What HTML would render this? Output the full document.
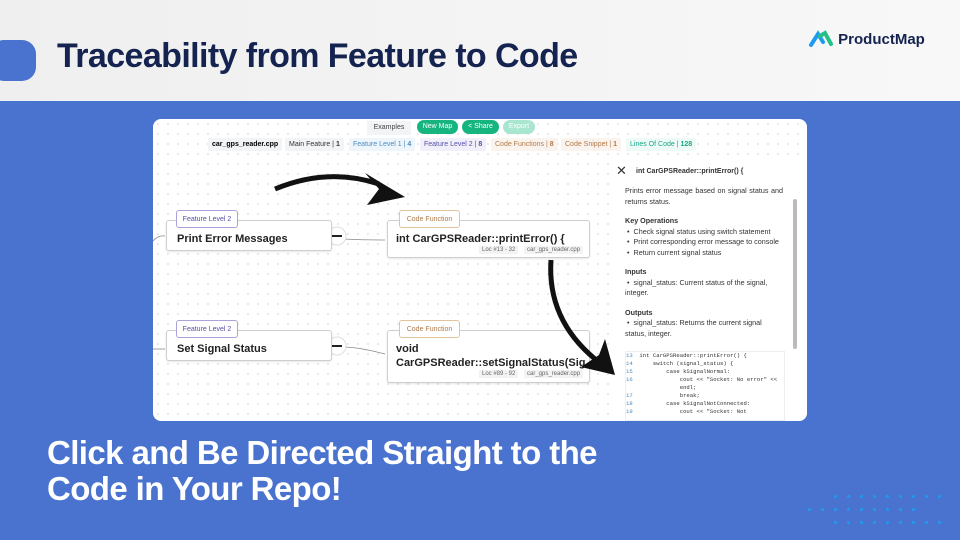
<!DOCTYPE html>
<html><head><meta charset="utf-8"><style>
*{margin:0;padding:0;box-sizing:border-box}
body{width:960px;height:540px;overflow:hidden;position:relative;background:#4a73cf;font-family:"Liberation Sans",sans-serif}
.hdr{position:absolute;left:0;top:0;width:960px;height:101px;background:linear-gradient(90deg,#efefef,#f8f8f8)}
.pill{position:absolute;left:-10px;top:40px;width:46px;height:41px;background:#4a73cf;border-radius:14px}
.title{position:absolute;left:57px;top:37px;font-size:34px;font-weight:bold;color:#14234f;letter-spacing:-0.6px}
.logo{position:absolute;left:808px;top:30px;font-size:15px;font-weight:bold;color:#14234f}
.panel{position:absolute;left:153px;top:119px;width:654px;height:302px;background:#fff;border-radius:8px;overflow:hidden;background-image:radial-gradient(#e2e2e2 0.8px,transparent 1px);background-size:10px 10px}
.a{position:absolute;font-size:7px;white-space:nowrap}
.chip{position:absolute;top:19px;height:13px;line-height:13px;padding:0 4px;background:#f3f4f6;font-size:7px;border-radius:2px}
.btn{position:absolute;top:1px;height:14px;line-height:14px;border-radius:7px;background:#16b57f;color:#fff;font-size:7px;text-align:center}
.node{position:absolute;background:#fff;border:1px solid #cfcfcf;border-radius:3px;box-shadow:0 1px 2px rgba(0,0,0,.1)}
.tag{position:absolute;height:18px;line-height:17px;font-size:7px;background:#fff;border-radius:3px;text-align:center}
.big{position:absolute;font-weight:bold;font-size:11px;color:#222;white-space:nowrap;overflow:hidden}
.small{position:absolute;font-size:6px;color:#666;background:#f3f3f3;padding:1px 3px}
.side{position:absolute;left:459px;top:40px;width:195px;height:262px;background:#fff;font-size:7.2px;color:#333}
.bot{position:absolute;left:47px;top:435px;color:#fff;font-size:33px;font-weight:bold;line-height:36px;letter-spacing:-0.6px}
.dot{position:absolute;width:3px;height:3px;border-radius:50%;background:#1e9af0}
</style></head><body>
<div class="hdr"></div>
<div class="pill"></div>
<div class="title">Traceability from Feature to Code</div>
<div class="logo"><svg width="26" height="18" viewBox="0 0 26 18" style="vertical-align:-4px"><path d="M3 15 L10 4 L15 12" stroke="#1e9af0" stroke-width="4" fill="none" stroke-linecap="round"/><path d="M12 6 L17 3 L23 14" stroke="#24c08a" stroke-width="4" fill="none" stroke-linecap="round"/></svg> ProductMap</div>

<div class="panel">
 <div class="a" style="left:214px;top:2px;width:44px;height:14px;line-height:14px;background:#f3f4f6;text-align:center;color:#444">Examples</div>
 <div class="btn" style="left:264px;width:41px">New Map</div>
 <div class="btn" style="left:309px;width:37px">&lt; Share</div>
 <div class="btn" style="left:350px;width:32px;background:#a9e6d0">Export</div>
 <div class="chip" style="left:55px;font-weight:bold;background:#f3f4f6">car_gps_reader.cpp</div>
 <div class="chip" style="left:132px;color:#333">Main Feature | <b>1</b></div>
 <div class="chip" style="left:196px;color:#4a8bc0;background:#eef5fb">Feature Level 1 | <b>4</b></div>
 <div class="chip" style="left:267px;color:#5550a8;background:#f1f0fa">Feature Level 2 | <b>8</b></div>
 <div class="chip" style="left:338px;color:#b07a4a;background:#fbf4ee">Code Functions | <b>8</b></div>
 <div class="chip" style="left:408px;color:#b07a4a;background:#fbf4ee">Code Snippet | <b>1</b></div>
 <div class="chip" style="left:473px;color:#1aa58a;background:#eefaf6">Lines Of Code | <b>128</b></div>

 <svg style="position:absolute;left:0;top:0" width="654" height="302">
  <g fill="none" stroke="#888" stroke-width="0.8">
   <path d="M0 122 Q5 116 12 117"/><path d="M0 230 L12 230"/>
   <path d="M190 120 Q210 121 232 121"/><path d="M190 228 Q205 228 232 235"/>
  </g>
  <circle cx="184" cy="117" r="9" fill="#fff" stroke="#ddd"/><line x1="179" y1="117" x2="189" y2="117" stroke="#222" stroke-width="2"/>
  <circle cx="184" cy="227" r="9" fill="#fff" stroke="#ddd"/><line x1="179" y1="227" x2="189" y2="227" stroke="#222" stroke-width="2"/>
 </svg>

 <div class="node" style="left:13px;top:101px;width:166px;height:31px"></div>
 <div class="tag" style="left:23px;top:91px;width:62px;border:1px solid #a9a3dd;color:#5550a8">Feature Level 2</div>
 <div class="big" style="left:24px;top:114px">Print Error Messages</div>
 <div class="node" style="left:234px;top:101px;width:203px;height:38px"></div>
 <div class="tag" style="left:246px;top:91px;width:61px;border:1px solid #e2c49c;color:#b07a4a">Code Function</div>
 <div class="big" style="left:243px;top:114px">int CarGPSReader::printError() {</div>
 <div class="small" style="left:326px;top:127px">Loc #13 - 32</div>
 <div class="small" style="left:371px;top:127px">car_gps_reader.cpp</div>

 <div class="node" style="left:13px;top:211px;width:166px;height:31px"></div>
 <div class="tag" style="left:23px;top:201px;width:62px;border:1px solid #a9a3dd;color:#5550a8">Feature Level 2</div>
 <div class="big" style="left:24px;top:224px">Set Signal Status</div>
 <div class="node" style="left:234px;top:211px;width:203px;height:53px"></div>
 <div class="tag" style="left:246px;top:201px;width:61px;border:1px solid #e2c49c;color:#b07a4a">Code Function</div>
 <div class="big" style="left:243px;top:224px">void</div>
 <div class="big" style="left:243px;top:238px;width:190px">CarGPSReader::setSignalStatus(Signa...</div>
 <div class="small" style="left:326px;top:251px">Loc #89 - 92</div>
 <div class="small" style="left:371px;top:251px">car_gps_reader.cpp</div>

 <div class="side">
  <div style="position:absolute;left:4px;top:4px;font-size:13px;color:#333">✕</div>
  <div style="position:absolute;left:24px;top:9px;font-weight:bold;font-size:7px">int CarGPSReader::printError() {</div>
  <div style="position:absolute;left:13px;top:27px;width:158px;line-height:10.5px;text-align:justify">Prints error message based on signal status and returns status.<div style="height:9px"></div>
  <b>Key Operations</b><br>
  &nbsp;•&nbsp; Check signal status using switch statement<br>
  &nbsp;•&nbsp; Print corresponding error message to console<br>
  &nbsp;•&nbsp; Return current signal status<div style="height:9px"></div>
  <div style="text-align:left"><b>Inputs</b><br>
  &nbsp;•&nbsp; signal_status: Current status of the signal, integer.<div style="height:9px"></div>
  <b>Outputs</b><br>
  &nbsp;•&nbsp; signal_status: Returns the current signal status, integer.</div></div>
  <div style="position:absolute;left:181px;top:40px;width:4px;height:150px;background:#bbb;border-radius:2px"></div>
  <div style="position:absolute;left:13px;top:192px;width:160px;height:70px;border:1px solid #eee;font-family:'Liberation Mono',monospace;font-size:5.6px;line-height:8px;white-space:pre;color:#333"><span style="color:#4a8bc0">13</span>  int CarGPSReader::printError() {
<span style="color:#4a8bc0">14</span>      switch (signal_status) {
<span style="color:#4a8bc0">15</span>          case kSignalNormal:
<span style="color:#4a8bc0">16</span>              cout &lt;&lt; "Socket: No error" &lt;&lt;
                endl;
<span style="color:#4a8bc0">17</span>              break;
<span style="color:#4a8bc0">18</span>          case kSignalNotConnected:
<span style="color:#4a8bc0">19</span>              cout &lt;&lt; "Socket: Not</div>
 </div>

 <svg style="position:absolute;left:0;top:0" width="654" height="302">
  <path d="M122 70 Q175 48 226 65" stroke="#111" stroke-width="5" fill="none"/>
  <path d="M212 54 L252 78 L214 86 L226 70 Z" fill="#111"/>
  <path d="M398 141 Q394 200 442 240" stroke="#111" stroke-width="5" fill="none"/>
  <path d="M428 248 L462 256 L452 220 L446 236 Z" fill="#111"/>
 </svg>
</div>

<div class="bot">Click and Be Directed Straight to the<br>Code in Your Repo!</div>
<div id="dots"></div>
<script>
var h='';
for(var i=0;i<9;i++){h+='<div class="dot" style="left:'+(834+i*13)+'px;top:495px"></div>';h+='<div class="dot" style="left:'+(834+i*13)+'px;top:521px"></div>';h+='<div class="dot" style="left:'+(808+i*13)+'px;top:508px"></div>';}
document.getElementById('dots').innerHTML=h;
</script>
</body></html>
